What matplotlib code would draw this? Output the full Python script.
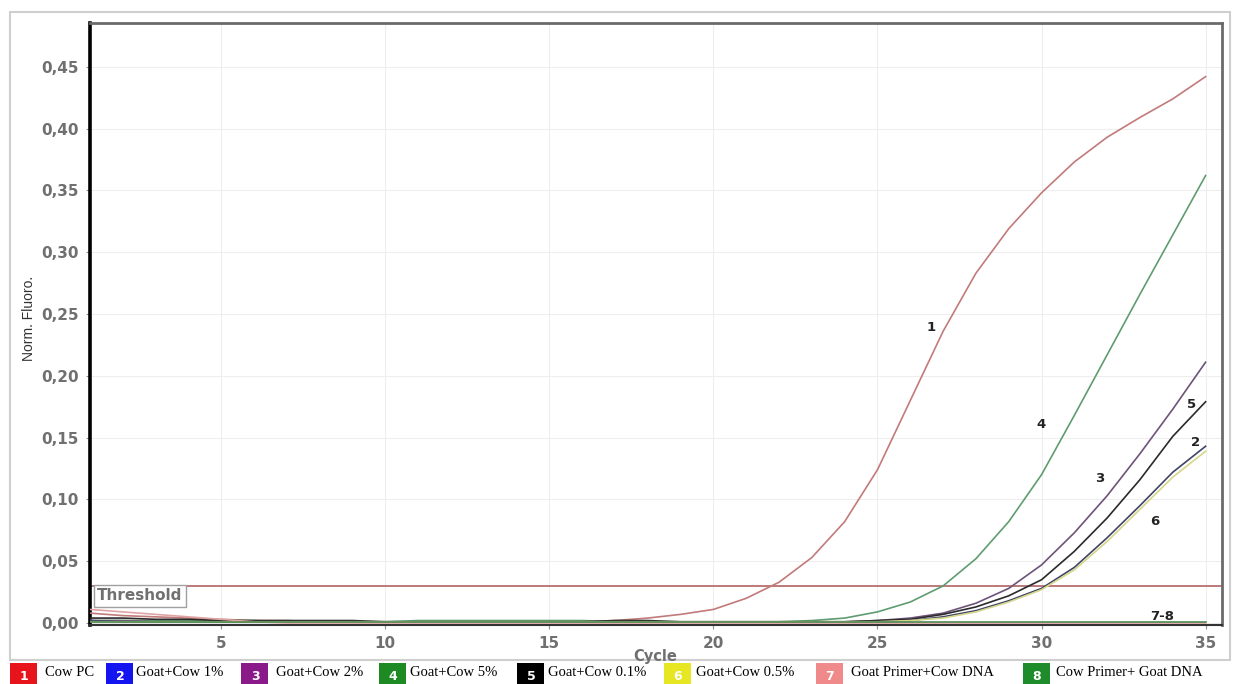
import numpy as np
import matplotlib.pyplot as plt
from matplotlib.patches import Rectangle
from matplotlib.ticker import FuncFormatter

cycles = np.arange(1, 36)

cow_pc = [0.008, 0.006, 0.005, 0.004, 0.003, 0.002, 0.002, 0.001, 0.001, 0.001,
          0.001, 0.001, 0.001, 0.001, 0.001, 0.001, 0.002, 0.004, 0.007, 0.011,
          0.020, 0.033, 0.053, 0.082, 0.124, 0.180, 0.236, 0.283, 0.319, 0.348,
          0.373, 0.393, 0.409, 0.424, 0.442]
goat_cow_1 = [0.002, 0.001, 0.001, 0.001, 0.001, 0.001, 0.001, 0.001, 0.001, 0.001,
              0.001, 0.001, 0.001, 0.001, 0.001, 0.001, 0.001, 0.001, 0.001, 0.001,
              0.001, 0.001, 0.001, 0.001, 0.001, 0.002, 0.005, 0.010, 0.018, 0.028,
              0.045, 0.069, 0.095, 0.122, 0.143]
goat_cow_2 = [0.002, 0.002, 0.001, 0.001, 0.001, 0.001, 0.001, 0.001, 0.001, 0.001,
              0.001, 0.001, 0.001, 0.001, 0.001, 0.001, 0.001, 0.001, 0.001, 0.001,
              0.001, 0.001, 0.001, 0.001, 0.002, 0.004, 0.008, 0.016, 0.028, 0.047,
              0.073, 0.103, 0.137, 0.173, 0.211]
goat_cow_5 = [0.002, 0.002, 0.002, 0.002, 0.002, 0.002, 0.001, 0.001, 0.001, 0.001,
              0.002, 0.002, 0.002, 0.002, 0.002, 0.002, 0.001, 0.001, 0.001, 0.001,
              0.001, 0.001, 0.002, 0.004, 0.009, 0.017, 0.030, 0.052, 0.082, 0.120,
              0.168, 0.217, 0.266, 0.314, 0.362]
goat_cow_01 = [0.004, 0.004, 0.003, 0.003, 0.002, 0.002, 0.002, 0.002, 0.002, 0.001,
               0.001, 0.001, 0.001, 0.001, 0.001, 0.001, 0.002, 0.002, 0.001, 0.001,
               0.001, 0.001, 0.001, 0.001, 0.002, 0.003, 0.007, 0.013, 0.022, 0.035,
               0.058, 0.085, 0.116, 0.151, 0.179]
goat_cow_05 = [0.001, 0.001, 0.001, 0.001, 0.001, 0.001, 0.001, 0.001, 0.001, 0.001,
               0.001, 0.001, 0.001, 0.001, 0.001, 0.001, 0.001, 0.001, 0.001, 0.001,
               0.001, 0.001, 0.001, 0.001, 0.001, 0.002, 0.004, 0.009, 0.017, 0.027,
               0.043, 0.066, 0.092, 0.118, 0.139]
goat_primer_cow = [0.011, 0.009, 0.007, 0.005, 0.003, 0.001, 0.000, 0.000, 0.000, 0.000,
                   0.000, 0.000, 0.000, 0.000, 0.000, 0.000, 0.000, 0.000, 0.000, 0.000,
                   0.000, 0.000, 0.000, 0.000, 0.000, 0.000, 0.000, 0.000, 0.000, 0.000,
                   0.000, 0.000, 0.000, 0.000, 0.000]
cow_primer_goat = [0.001] * 35

threshold = 0.03
labels = ['Cow PC', 'Goat+Cow 1%', 'Goat+Cow 2%', 'Goat+Cow 5%', 'Goat+Cow 0.1%',
          'Goat+Cow 0.5%', 'Goat Primer+Cow DNA', 'Cow Primer+ Goat DNA']
curve_tags = ['1', '2', '3', '4', '5', '6', '7-8']
tag_x = [26.62, 34.69, 31.76, 29.99, 34.57, 33.44, 33.68]
tag_y = [0.239, 0.146, 0.117, 0.161, 0.177, 0.082, 0.005]

series = [cow_pc, goat_cow_1, goat_cow_2, goat_cow_5, goat_cow_01, goat_cow_05,
          goat_primer_cow, cow_primer_goat]
line_colors = ['#c27a7a', '#3f4566', '#6e5378', '#5f9c70', '#2a2a2a', '#d6d68a',
               '#e0a4a4', '#4e8a52']
box_colors = ['#e8141c', '#1414f0', '#8a1a8a', '#1e8a24', '#000000', '#e6e622',
              '#f08a8a', '#1e8c2a']

fig = plt.figure(figsize=(12.34, 6.84), dpi=100)
ax = fig.add_axes([90/1234, 1 - 625/684, (1222-90)/1234, (625-23)/684])

# outer grey frame
fig.patches.append(Rectangle((10/1234, 1 - 660/684), 1220/1234, 648/684,
                             transform=fig.transFigure, fill=False,
                             ec='#cfcfcf', lw=1.5))

order = [0, 3, 2, 4, 1, 5, 6, 7]
for i in order:
    ax.plot(cycles, series[i], color=line_colors[i], lw=1.2, zorder=3)
ax.axhline(threshold, color='#b06464', lw=1.2, zorder=2)

ax.text(1.22, 0.0281, 'Threshold', fontsize=11, fontweight='bold', color='#707070',
        va='top', ha='left', zorder=4,
        bbox=dict(boxstyle='square,pad=0.22', fc='white', ec='#a0a0a0', lw=1))

for t, x, y in zip(curve_tags, tag_x, tag_y):
    ax.text(x, y, t, fontsize=9.5, fontweight='bold', color='#222222',
            ha='center', va='center', zorder=5)

ax.set_xlim(1.0, 35.5)
ax.set_ylim(-0.0016, 0.4854)
ax.set_xticks([5, 10, 15, 20, 25, 30, 35])
ax.set_yticks(np.arange(0, 0.46, 0.05))
ax.yaxis.set_major_formatter(FuncFormatter(lambda v, p: ('%.2f' % v).replace('.', ',')))
ax.tick_params(labelsize=11, labelcolor='#707070', color='#909090', length=3, pad=5)
for lab in ax.get_xticklabels() + ax.get_yticklabels():
    lab.set_fontweight('bold')
ax.grid(color='#eeeeee', lw=0.8)
ax.set_axisbelow(True)

ax.spines['left'].set_color('black')
ax.spines['left'].set_linewidth(2.6)
ax.spines['bottom'].set_color('#333333')
ax.spines['bottom'].set_linewidth(1.5)
ax.spines['top'].set_color('#6a6a6a')
ax.spines['top'].set_linewidth(2)
ax.spines['right'].set_color('#6a6a6a')
ax.spines['right'].set_linewidth(2)

fig.text(655/1234, 1 - 656/684, 'Cycle', fontsize=10.5, fontweight='bold',
         color='#707070', ha='center', va='center')
fig.text(29/1234, 1 - 318/684, 'Norm. Fluoro.', fontsize=10, rotation=90,
         family='Liberation Sans', color='#333333',
         ha='center', va='center')

# legend row along the bottom
box_x = [10, 106, 241, 379, 517, 664, 816, 1023]
text_x = [45, 136, 276, 410, 548, 696, 851, 1056]
for i in range(8):
    fig.patches.append(Rectangle((box_x[i]/1234, 0), 27/1234, 21/684,
                                 transform=fig.transFigure, fc=box_colors[i],
                                 ec='none'))
    fig.text((box_x[i] + 14)/1234, 8/684, str(i + 1), fontsize=9, fontweight='bold',
             color='white', ha='center', va='center')
    fig.text(text_x[i]/1234, 12/684, labels[i], fontsize=10.5,
             family='Liberation Serif', color='black', ha='left', va='center')

fig.savefig('out.png', dpi=100)
